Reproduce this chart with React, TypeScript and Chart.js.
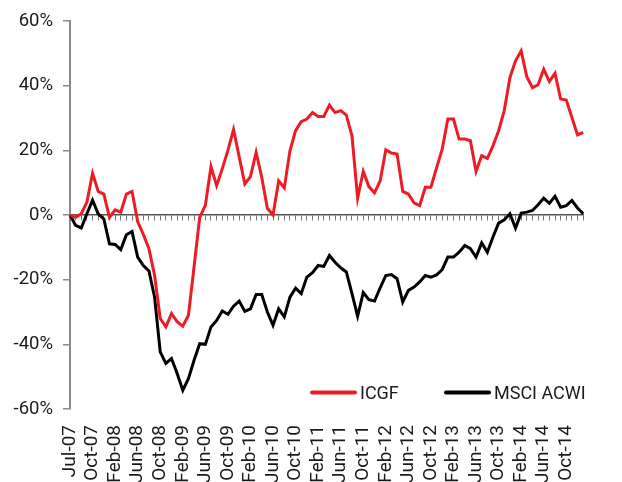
import React, { useEffect, useRef } from "react";
import { Chart, registerables } from "chart.js";

Chart.register(...registerables);

// Tick labels shown on the category axis (one every 4 periods)
const tickLabels = [
  "Jul-07", "Oct-07", "Feb-08", "Jun-08", "Oct-08", "Feb-09", "Jun-09", "Oct-09",
  "Feb-10", "Jun-10", "Oct-10", "Feb-11", "Jun-11", "Oct-11", "Feb-12", "Jun-12",
  "Oct-12", "Feb-13", "Jun-13", "Oct-13", "Feb-14", "Jun-14", "Oct-14",
];
const periodsPerLabel = 4;

// Cumulative performance (%)
const icgf = [
  0, -0.7, 0.4, 4, 12.9, 7.3, 6.5, -0.7, 1.6, 0.9,
  6.5, 7.3, -2, -6, -10.4, -18.7, -32, -34.6, -30.5, -33,
  -34.4, -31, -16, -0.7, 3, 15, 9.1, 14.3, 20, 26.5,
  18, 9.6, 11.9, 19.4, 11.7, 2.1, 0, 10.6, 8.4, 19.9,
  26.1, 28.9, 29.7, 31.7, 30.5, 30.5, 34, 31.7, 32.3, 30.9,
  24.5, 5.2, 13.5, 8.8, 6.9, 10.6, 20.2, 19.2, 18.9, 7.3,
  6.5, 3.8, 2.9, 8.6, 8.6, 14.6, 20.4, 29.7, 29.7, 23.5,
  23.5, 23, 13.5, 18.4, 17.5, 21.4, 26.1, 32.3, 42.5, 47.7,
  50.8, 42.8, 39.4, 40.3, 45.1, 41.3, 43.9, 35.9, 35.6, 30.2,
  24.8, 25.6,
];
const msciAcwi = [
  0, -3.2, -4, 0.4, 4.6, 0.4, -1.2, -8.9, -9.1, -10.7,
  -6.1, -5.1, -13, -15.6, -17.3, -25.4, -42.3, -45.9, -44.4, -49,
  -54.2, -50.6, -44.9, -39.8, -40, -34.6, -32.6, -29.7, -30.7, -28.2,
  -26.6, -29.8, -29, -24.6, -24.6, -30, -34.1, -29, -31.5, -25.4,
  -22.6, -24.3, -19.2, -17.8, -15.6, -15.9, -12.5, -14.6, -16.3, -17.6,
  -24.3, -31.3, -24, -26.2, -26.6, -22.5, -18.7, -18.4, -19.7, -26.9,
  -23.3, -22.3, -20.7, -18.7, -19.2, -18.5, -16.9, -13, -13, -11.5,
  -9.4, -10.4, -13, -8.6, -11.5, -6.8, -2.5, -1.5, 0.4, -4,
  0.6, 0.9, 1.4, 3.2, 5.2, 3.6, 5.8, 2.4, 2.9, 4.5,
  2.2, 0.4,
];
const seriesNames = ["ICGF", "MSCI ACWI"];
const seriesColors = ["#ED1C24", "#000000"];
const yMin = -60;
const yMax = 60;
const yStep = 20;

const categories = icgf.map((_, i) =>
  i % periodsPerLabel === 0 && tickLabels[i / periodsPerLabel] ? tickLabels[i / periodsPerLabel] : ""
);

const FONT = "Roboto, 'Liberation Sans', Arial, sans-serif";
const TEXT = "#1a1a1a";

const insideLegend = {
  id: "insideLegend",
  afterDraw(chart: any) {
    const { ctx, chartArea } = chart;
    const y = chartArea.bottom - 16.5;
    const starts = [chartArea.left + 240, chartArea.left + 374];
    chart.data.datasets.forEach((ds: any, i: number) => {
      const x0 = starts[i];
      ctx.save();
      ctx.strokeStyle = ds.borderColor;
      ctx.lineWidth = 4;
      ctx.lineCap = "round";
      ctx.beginPath();
      ctx.moveTo(x0 + 2, y);
      ctx.lineTo(x0 + 45, y);
      ctx.stroke();
      ctx.fillStyle = TEXT;
      ctx.font = `18px ${FONT}`;
      ctx.textBaseline = "alphabetic";
      ctx.textAlign = "left";
      ctx.fillText(ds.label, x0 + 50, y + 6);
      ctx.restore();
    });
  },
};

export default function App() {
  const ref = useRef<HTMLCanvasElement | null>(null);

  useEffect(() => {
    if (!ref.current) return;
    const chart = new Chart(ref.current, {
      type: "line",
      data: {
        labels: categories,
        datasets: [
          {
            label: seriesNames[0],
            data: icgf,
            borderColor: seriesColors[0],
            backgroundColor: seriesColors[0],
            borderWidth: 3,
            pointRadius: 0,
            tension: 0,
            xAxisID: "x",
          },
          {
            label: seriesNames[1],
            data: msciAcwi,
            borderColor: seriesColors[1],
            backgroundColor: seriesColors[1],
            borderWidth: 3,
            pointRadius: 0,
            tension: 0,
            xAxisID: "x",
          },
        ],
      },
      options: {
        animation: false,
        responsive: false,
        maintainAspectRatio: false,
        devicePixelRatio: 1,
        layout: { padding: { top: 20, right: 5, bottom: 0, left: 0 } },
        plugins: {
          legend: { display: false },
          tooltip: { enabled: false },
        },
        scales: {
          x: {
            type: "category",
            position: "bottom",
            offset: false,
            grid: { display: false, drawTicks: false, tickLength: 0 },
            border: { display: false },
            ticks: {
              autoSkip: false,
              maxRotation: 90,
              minRotation: 90,
              padding: 16,
              color: TEXT,
              font: { family: FONT, size: 19 },
            },
            afterFit: (scale: any) => {
              scale.height = 73;
            },
          },
          x2: {
            type: "category",
            position: { y: 0 },
            offset: false,
            grid: {
              display: true,
              drawOnChartArea: false,
              drawTicks: true,
              tickLength: 5,
              color: "#777777",
              lineWidth: 1,
            },
            border: { display: true, color: "#555555", width: 1.5 },
            ticks: { display: false, autoSkip: false },
          },
          y: {
            type: "linear",
            position: "left",
            min: yMin,
            max: yMax,
            grid: {
              display: true,
              drawOnChartArea: false,
              drawTicks: true,
              tickLength: 7,
              color: "#8a8a8a",
              lineWidth: 1.5,
            },
            border: { display: true, color: "#8a8a8a", width: 2 },
            ticks: {
              stepSize: yStep,
              padding: 10,
              color: TEXT,
              font: { family: FONT, size: 18.5 },
              callback: (v: any) => `${v}%`,
            },
            afterFit: (scale: any) => {
              scale.width = 70;
            },
          },
        },
      },
      plugins: [insideLegend],
    });
    return () => chart.destroy();
  }, []);

  return (
    <div
      style={{
        position: "fixed",
        left: 0,
        top: 0,
        width: 622,
        height: 482,
        overflow: "hidden",
        background: "#ffffff",
      }}
    >
      <canvas ref={ref} width={622} height={482} style={{ display: "block" }} />
    </div>
  );
}
